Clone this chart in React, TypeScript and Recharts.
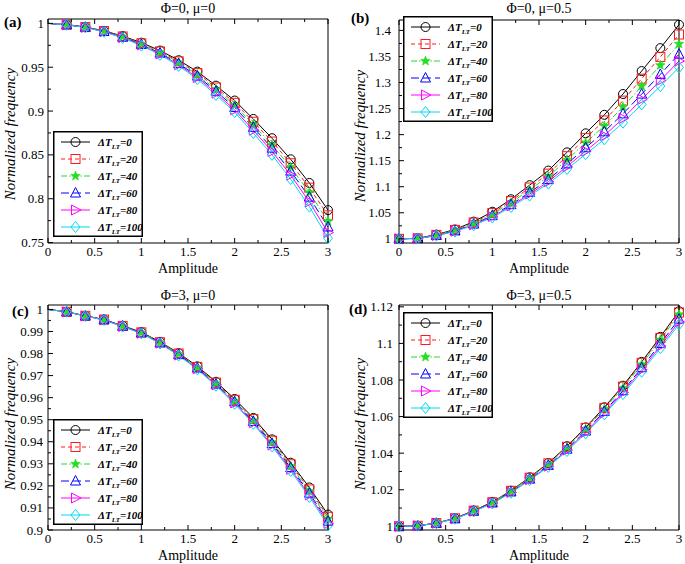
import React from 'react'
import { LineChart, Line, XAxis, YAxis, Legend } from 'recharts'

const AMPLITUDE = [0, 0.2, 0.4, 0.6, 0.8, 1, 1.2, 1.4, 1.6, 1.8, 2, 2.2, 2.4, 2.6, 2.8, 3]
const DELTA_T = [0, 20, 40, 60, 80, 100]

// (a) Φ=0, μ=0
const A_T0 = [1, 0.9985, 0.9959, 0.9915, 0.9855, 0.978, 0.969, 0.958, 0.945, 0.929, 0.912, 0.891, 0.869, 0.845, 0.818, 0.787]
const A_T20 = [1, 0.9985, 0.9958, 0.9913, 0.9851, 0.9773, 0.968, 0.9567, 0.9433, 0.9269, 0.9094, 0.8878, 0.8652, 0.8405, 0.8126, 0.781]
const A_T40 = [1, 0.9985, 0.9957, 0.991, 0.9847, 0.9767, 0.9671, 0.9554, 0.9416, 0.9247, 0.9067, 0.8846, 0.8614, 0.836, 0.8072, 0.7742]
const A_T60 = [1, 0.9984, 0.9956, 0.9908, 0.9842, 0.976, 0.9661, 0.9541, 0.9399, 0.9226, 0.9041, 0.8814, 0.8576, 0.8315, 0.8018, 0.7678]
const A_T80 = [1, 0.9984, 0.9955, 0.9905, 0.9838, 0.9754, 0.9652, 0.9528, 0.9382, 0.9204, 0.9014, 0.8782, 0.8538, 0.827, 0.7964, 0.7614]
const A_T100 = [1, 0.9984, 0.9954, 0.9903, 0.9834, 0.9747, 0.9642, 0.9515, 0.9365, 0.9183, 0.8988, 0.875, 0.85, 0.8225, 0.791, 0.755]

// (b) Φ=0, μ=0.5
const B_T0 = [1, 1.001, 1.008, 1.018, 1.033, 1.052, 1.076, 1.103, 1.131, 1.166, 1.2025, 1.238, 1.278, 1.322, 1.366, 1.411]
const B_T20 = [1, 1.0009, 1.0075, 1.0171, 1.0314, 1.0495, 1.0725, 1.0984, 1.1252, 1.1586, 1.1933, 1.2272, 1.2653, 1.3073, 1.3492, 1.3921]
const B_T40 = [1, 1.0008, 1.0071, 1.0162, 1.0298, 1.047, 1.0692, 1.094, 1.1197, 1.1516, 1.1845, 1.2168, 1.2532, 1.2932, 1.3331, 1.3741]
const B_T60 = [1, 1.0007, 1.0066, 1.0152, 1.0282, 1.0444, 1.0656, 1.0892, 1.1137, 1.1439, 1.1749, 1.2056, 1.24, 1.2778, 1.3156, 1.3544]
const B_T80 = [1, 1.0006, 1.0063, 1.0146, 1.027, 1.0426, 1.0632, 1.086, 1.1097, 1.1388, 1.1685, 1.198, 1.2312, 1.2676, 1.304, 1.3413]
const B_T100 = [1, 1.0005, 1.006, 1.014, 1.026, 1.041, 1.061, 1.083, 1.106, 1.134, 1.1625, 1.191, 1.223, 1.258, 1.293, 1.329]

// (c) Φ=3, μ=0
const C_T0 = [1, 0.9989, 0.9971, 0.9954, 0.9926, 0.9897, 0.9853, 0.9802, 0.9742, 0.9672, 0.9594, 0.9508, 0.9411, 0.9305, 0.9193, 0.907]
const C_T20 = [1, 0.9989, 0.9971, 0.9954, 0.9925, 0.9896, 0.9851, 0.98, 0.9739, 0.9668, 0.959, 0.9503, 0.9405, 0.9298, 0.9184, 0.906]
const C_T40 = [1, 0.9989, 0.9971, 0.9953, 0.9924, 0.9895, 0.985, 0.9798, 0.9736, 0.9665, 0.9585, 0.9497, 0.9398, 0.929, 0.9176, 0.905]
const C_T60 = [1, 0.9989, 0.997, 0.9953, 0.9924, 0.9893, 0.9848, 0.9795, 0.9734, 0.9661, 0.9581, 0.9492, 0.9392, 0.9283, 0.9167, 0.904]
const C_T80 = [1, 0.9989, 0.997, 0.9952, 0.9923, 0.9892, 0.9847, 0.9793, 0.9731, 0.9658, 0.9576, 0.9486, 0.9385, 0.9275, 0.9159, 0.903]
const C_T100 = [1, 0.9989, 0.997, 0.9952, 0.9922, 0.9891, 0.9845, 0.9791, 0.9728, 0.9654, 0.9572, 0.9481, 0.9379, 0.9268, 0.915, 0.902]

// (d) Φ=3, μ=0.5
const D_T0 = [1, 1.0003, 1.0018, 1.0044, 1.0086, 1.0133, 1.0195, 1.0268, 1.0346, 1.0438, 1.0541, 1.0651, 1.0769, 1.0899, 1.1036, 1.1176]
const D_T20 = [1, 1.0003, 1.0018, 1.0044, 1.0086, 1.0132, 1.0194, 1.0266, 1.0344, 1.0435, 1.0538, 1.0647, 1.0764, 1.0894, 1.103, 1.1169]
const D_T40 = [1, 1.0003, 1.0018, 1.0043, 1.0085, 1.0131, 1.0192, 1.0264, 1.0341, 1.0431, 1.0533, 1.0641, 1.0757, 1.0885, 1.102, 1.1158]
const D_T60 = [1, 1.0003, 1.0017, 1.0042, 1.0083, 1.0128, 1.0188, 1.0258, 1.0333, 1.0422, 1.0521, 1.0628, 1.0741, 1.0867, 1.0999, 1.1133]
const D_T80 = [1, 1.0003, 1.0017, 1.0042, 1.0082, 1.0127, 1.0185, 1.0255, 1.0329, 1.0417, 1.0515, 1.062, 1.0732, 1.0856, 1.0986, 1.1118]
const D_T100 = [1, 1.0003, 1.0017, 1.0041, 1.0081, 1.0125, 1.0183, 1.0252, 1.0325, 1.0412, 1.0508, 1.0612, 1.0723, 1.0845, 1.0974, 1.1104]

const X_TICKS = [0, 0.5, 1, 1.5, 2, 2.5, 3]
const A_Y_TICKS = [0.75, 0.8, 0.85, 0.9, 0.95, 1]
const B_Y_TICKS = [1, 1.05, 1.1, 1.15, 1.2, 1.25, 1.3, 1.35, 1.4]
const C_Y_TICKS = [0.9, 0.91, 0.92, 0.93, 0.94, 0.95, 0.96, 0.97, 0.98, 0.99, 1]
const D_Y_TICKS = [1, 1.02, 1.04, 1.06, 1.08, 1.1, 1.12]

const FONT = '"Liberation Serif", "Times New Roman", serif'

const STYLES = [
  { color: '#000000', dash: undefined, shape: 'circle' },
  { color: '#ff1a1a', dash: '4 3', shape: 'square' },
  { color: '#22dd22', dash: '6 2 1.5 2', shape: 'star' },
  { color: '#0000ff', dash: '8 4', shape: 'triangle' },
  { color: '#ff00ff', dash: undefined, shape: 'triangleRight' },
  { color: '#00d8f0', dash: undefined, shape: 'diamond' },
]

// majors plus one minor tick between each pair
const withMinor = (majors: number[]) =>
  majors.flatMap((m, i) => (i ? [(majors[i - 1] + m) / 2, m] : [m]))
const isMajor = (v: number, majors: number[]) => majors.some((m) => Math.abs(m - v) < 1e-9)

function Marker({ cx, cy, shape, color }: any) {
  const common = { fill: 'none', stroke: color, strokeWidth: 1 }
  if (shape === 'circle') return <circle cx={cx} cy={cy} r={4.5} {...common} />
  if (shape === 'square') return <rect x={cx - 4.5} y={cy - 4.5} width={9} height={9} {...common} />
  if (shape === 'triangle')
    return <polygon points={`${cx},${cy - 5.5} ${cx - 5},${cy + 4} ${cx + 5},${cy + 4}`} {...common} />
  if (shape === 'triangleRight')
    return <polygon points={`${cx + 5.5},${cy} ${cx - 4},${cy - 5} ${cx - 4},${cy + 5}`} {...common} />
  if (shape === 'diamond')
    return <polygon points={`${cx},${cy - 5.5} ${cx + 4.5},${cy} ${cx},${cy + 5.5} ${cx - 4.5},${cy}`} {...common} />
  // star
  const pts: string[] = []
  for (let k = 0; k < 10; k++) {
    const r = k % 2 ? 2.1 : 5
    const ang = -Math.PI / 2 + (k * Math.PI) / 5
    pts.push(`${cx + r * Math.cos(ang)},${cy + r * Math.sin(ang)}`)
  }
  return <polygon points={pts.join(' ')} fill={color} stroke={color} strokeWidth={0.6} />
}

function LegendBox() {
  return (
    <svg width={90} height={106} style={{ display: 'block' }}>
      <rect x={0.75} y={0.75} width={88.5} height={104.5} fill="#fff" stroke="#000" strokeWidth={1.5} />
      {STYLES.map((s, i) => {
        const y = 11 + i * 17
        return (
          <g key={i}>
            <line x1={8} x2={37} y1={y} y2={y} stroke={s.color} strokeDasharray={s.dash} strokeWidth={1} />
            <Marker cx={22.5} cy={y} shape={s.shape} color={s.color} />
            <text x={45} y={y + 4} fontFamily={FONT} fontStyle="italic" fontWeight="bold" fontSize={11} fill="#000">
              ΔT
              <tspan fontSize={7} dy={3}>LT</tspan>
              <tspan dy={-3}>={DELTA_T[i]}</tspan>
            </text>
          </g>
        )
      })}
    </svg>
  )
}

// margins already take away the 1px each axis occupies
const PANELS = [
  {
    id: 'a', left: 0, top: 0, series: [A_T0, A_T20, A_T40, A_T60, A_T80, A_T100],
    yTicks: A_Y_TICKS, yDomain: [0.7495, 1.005], margin: { top: 18, right: 16, bottom: 38, left: 47 },
    legend: { left: 53, top: 131 }, hideFirstDot: true, gap: 4,
  },
  {
    id: 'b', left: 340, top: 0, series: [B_T0, B_T20, B_T40, B_T60, B_T80, B_T100],
    yTicks: B_Y_TICKS, yDomain: [0.992, 1.42], margin: { top: 19, right: 5, bottom: 38, left: 58 },
    legend: { left: 63, top: 16 }, hideFirstDot: false, gap: 8,
  },
  {
    id: 'c', left: 0, top: 282, series: [C_T0, C_T20, C_T40, C_T60, C_T80, C_T100],
    yTicks: C_Y_TICKS, yDomain: [0.9, 1.002], margin: { top: 22, right: 16, bottom: 33, left: 47 },
    legend: { left: 53, top: 137 }, hideFirstDot: true, gap: 5,
  },
  {
    id: 'd', left: 340, top: 282, series: [D_T0, D_T20, D_T40, D_T60, D_T80, D_T100],
    yTicks: D_Y_TICKS, yDomain: [0.998, 1.121], margin: { top: 22, right: 5, bottom: 33, left: 58 },
    legend: { left: 63, top: 30 }, hideFirstDot: false, gap: 6,
  },
]

function Panel({ p }: any) {
  const data = AMPLITUDE.map((x, j) => {
    const row: any = { x }
    p.series.forEach((s: number[], i: number) => (row[`t${i}`] = s[j]))
    return row
  })
  const xAll = withMinor(X_TICKS)
  const yAll = withMinor(p.yTicks)

  const bottomTick = ({ x, y, payload }: any) => {
    const major = isMajor(payload.value, X_TICKS)
    return (
      <g>
        <line x1={x} x2={x} y1={y} y2={y - (major ? 5 : 3)} stroke="#000" />
        {major && (
          <text x={x} y={y + 13} textAnchor="middle" fontFamily={FONT} fontSize={13} fill="#000">
            {String(payload.value)}
          </text>
        )}
      </g>
    )
  }
  const topTick = ({ x, y, payload }: any) => (
    <line x1={x} x2={x} y1={y} y2={y + (isMajor(payload.value, X_TICKS) ? 5 : 3)} stroke="#000" />
  )
  const leftTick = ({ x, y, payload }: any) => {
    const major = isMajor(payload.value, p.yTicks)
    return (
      <g>
        <line x1={x} x2={x + (major ? 5 : 3)} y1={y} y2={y} stroke="#000" />
        {major && (
          <text x={x - p.gap} y={y + 4.5} textAnchor="end" fontFamily={FONT} fontSize={13} fill="#000">
            {String(payload.value)}
          </text>
        )}
      </g>
    )
  }
  const rightTick = ({ x, y, payload }: any) => (
    <line x1={x} x2={x - (isMajor(payload.value, p.yTicks) ? 5 : 3)} y1={y} y2={y} stroke="#000" />
  )

  return (
    <div style={{ position: 'absolute', left: p.left, top: p.top }}>
      <LineChart width={345} height={282} data={data} margin={p.margin}>
        <XAxis dataKey="x" type="number" domain={[0, 3]} ticks={xAll} interval={0} height={1}
          tickSize={0} tickMargin={0} tick={bottomTick} axisLine={{ stroke: '#000' }} />
        <XAxis xAxisId="top" orientation="top" dataKey="x" type="number" domain={[0, 3]} ticks={xAll}
          interval={0} height={1} tickSize={0} tickMargin={0} tick={topTick} axisLine={{ stroke: '#000' }} />
        <YAxis type="number" domain={p.yDomain} ticks={yAll} interval={0} width={1}
          tickSize={0} tickMargin={0} tick={leftTick} axisLine={{ stroke: '#000' }} />
        <YAxis yAxisId="right" orientation="right" type="number" domain={p.yDomain} ticks={yAll}
          interval={0} width={1} tickSize={0} tickMargin={0} tick={rightTick} axisLine={{ stroke: '#000' }} />
        <Legend layout="vertical" align="center" verticalAlign="middle" content={() => <LegendBox />}
          wrapperStyle={{ left: p.legend.left, top: p.legend.top, width: 90, height: 106 }} />
        {STYLES.map((s, i) => (
          <Line
            key={i}
            dataKey={`t${i}`}
            name={`ΔT=${DELTA_T[i]}`}
            stroke={s.color}
            strokeWidth={1}
            strokeDasharray={s.dash}
            activeDot={false}
            isAnimationActive={false}
            dot={(d: any) =>
              p.hideFirstDot && d.index === 0 ? (
                <g key={`${p.id}-${i}-${d.index}`} />
              ) : (
                <Marker key={`${p.id}-${i}-${d.index}`} cx={d.cx} cy={d.cy} shape={s.shape} color={s.color} />
              )
            }
          />
        ))}
      </LineChart>
    </div>
  )
}

const TITLES = [
  { text: 'Φ=0, μ=0', x: 188, y: 13 },
  { text: 'Φ=0, μ=0.5', x: 539, y: 13 },
  { text: 'Φ=3, μ=0', x: 188, y: 300 },
  { text: 'Φ=3, μ=0.5', x: 539, y: 300 },
]
const LETTERS = [
  { text: '(a)', x: 4, y: 27 },
  { text: '(b)', x: 351, y: 23 },
  { text: '(c)', x: 12, y: 316 },
  { text: '(d)', x: 349, y: 314 },
]
const X_LABELS = [
  { x: 188, y: 273 }, { x: 539, y: 273 }, { x: 188, y: 560 }, { x: 539, y: 560 },
]
const Y_LABELS = [
  { x: 15, y: 134 }, { x: 365, y: 136 }, { x: 15, y: 424 }, { x: 365, y: 424 },
]

export default function App() {
  return (
    <div style={{ position: 'absolute', left: 0, top: 0, width: 685, height: 564, background: '#fff' }}>
      {PANELS.map((p) => (
        <Panel key={p.id} p={p} />
      ))}
      <svg width={685} height={564} style={{ position: 'absolute', left: 0, top: 0, pointerEvents: 'none' }}>
        {TITLES.map((t) => (
          <text key={t.text} x={t.x} y={t.y} textAnchor="middle" fontFamily={FONT} fontSize={14} fill="#000">
            {t.text}
          </text>
        ))}
        {LETTERS.map((t) => (
          <text key={t.text} x={t.x} y={t.y} fontFamily={FONT} fontSize={15} fontWeight="bold" fill="#000">
            {t.text}
          </text>
        ))}
        {X_LABELS.map((t, i) => (
          <text key={i} x={t.x} y={t.y} textAnchor="middle" fontFamily={FONT} fontSize={14} fill="#000">
            Amplitude
          </text>
        ))}
        {Y_LABELS.map((t, i) => (
          <text key={i} x={t.x} y={t.y} transform={`rotate(-90 ${t.x} ${t.y})`} textAnchor="middle"
            fontFamily={FONT} fontStyle="italic" fontSize={15} fill="#000">
            Normalized frequency
          </text>
        ))}
      </svg>
    </div>
  )
}
